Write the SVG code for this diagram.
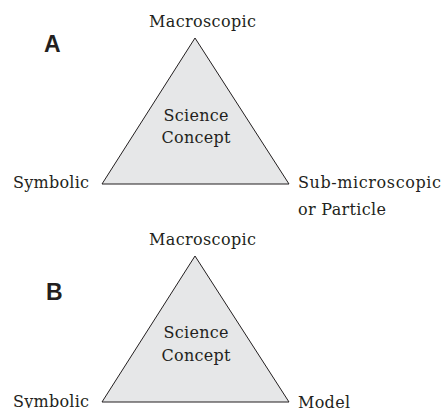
<svg xmlns="http://www.w3.org/2000/svg" width="441" height="408" viewBox="0 0 441 408">
<style>
.t{font-family:"DejaVu Serif","Liberation Serif",serif;font-size:16px;fill:#231f20}
.c{text-anchor:middle}
.L{font-family:"Liberation Sans",Arial,sans-serif;font-weight:bold;font-size:23px;fill:#231f20}
.tri{fill:#e6e7e8;stroke:#231f20;stroke-width:1}
</style>
<rect width="441" height="408" fill="#fff"/>
<g id="panelA">
<text class="L" x="44" y="52">A</text>
<g id="A-triangle"><polygon class="tri" points="195,38 102,184 289,184"/></g>
<g id="A-concept"><text class="t c" x="196" y="121" textLength="65">Science</text><text class="t c" x="196" y="143" textLength="69">Concept</text></g>
<g id="A-macro"><text class="t c" x="202.5" y="27" textLength="107">Macroscopic</text></g>
<g id="A-symbolic"><text class="t" x="13" y="188" textLength="76">Symbolic</text></g>
<g id="A-sub"><text class="t" x="298" y="188" textLength="143">Sub-microscopic</text><text class="t" x="298" y="215" textLength="88">or Particle</text></g>
</g>
<g id="panelB">
<text class="L" x="46" y="300">B</text>
<g id="B-triangle"><polygon class="tri" points="195,256 102,402 289,402"/></g>
<g id="B-concept"><text class="t c" x="196" y="338" textLength="65">Science</text><text class="t c" x="196" y="361" textLength="69">Concept</text></g>
<g id="B-macro"><text class="t c" x="202.5" y="245" textLength="107">Macroscopic</text></g>
<g id="B-symbolic"><text class="t" x="13" y="407" textLength="76">Symbolic</text></g>
<g id="B-model"><text class="t" x="298" y="408" textLength="52">Model</text></g>
</g>
<g id="connectors"/>
</svg>
